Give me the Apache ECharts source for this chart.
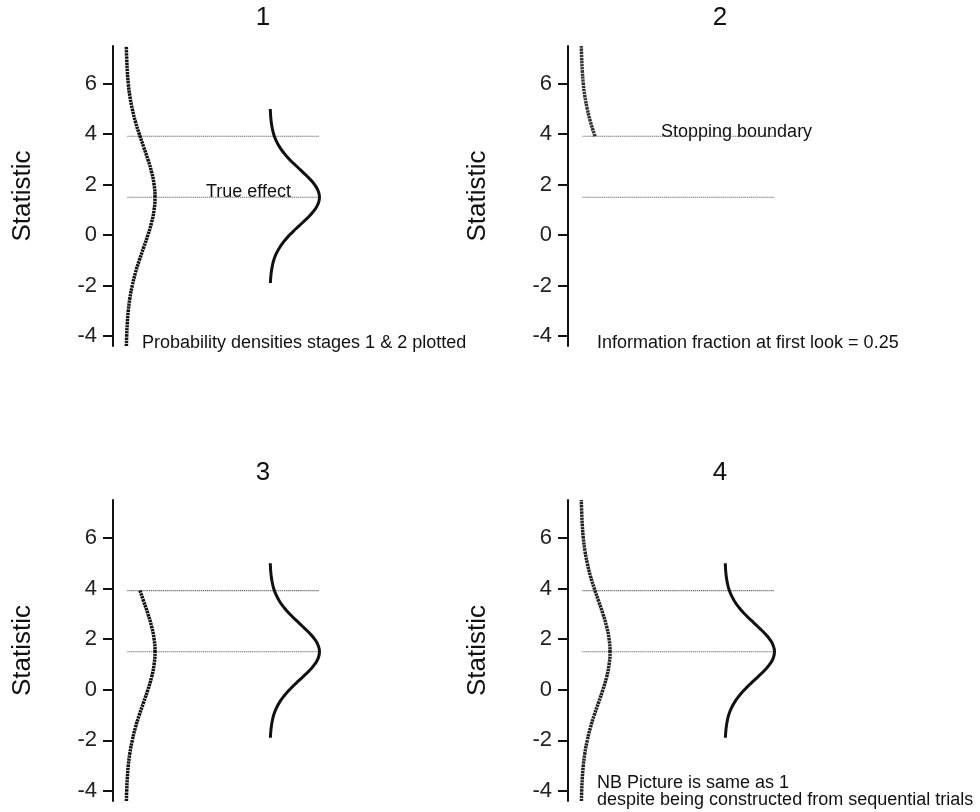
<!DOCTYPE html>
<html>
<head>
<meta charset="utf-8">
<script src="https://cdn.jsdelivr.net/npm/echarts@6/dist/echarts.min.js"></script>
<style>
html,body{margin:0;padding:0;background:#fff;}
#chart{width:980px;height:812px;}
</style>
</head>
<body>
<div id="chart"></div>
<script>
// ---- data ----
const panelTitles = ['1', '2', '3', '4'];
const tickValues = [-4, -2, 0, 2, 4, 6];
const axisName = 'Statistic';
const stoppingBoundary = 3.92;
const trueEffect = 1.5;
const refLineX = [1.45, 20.65];

// stage-1 density (wide, left curve): statistic value vs horizontal position
const statY = [-4.4, -4, -3.5, -3, -2.5, -2, -1.5, -1, -0.5, 0, 0.5, 1, 1.5, 2, 2.5, 3, 3.5, 3.92, 4, 4.5, 5, 5.5, 6, 6.5, 7, 7.5];
const stage1Density = [1.34, 1.37, 1.43, 1.53, 1.69, 1.93, 2.24, 2.63, 3.06, 3.49, 3.86, 4.11, 4.20, 4.11, 3.86, 3.49, 3.06, 2.70, 2.63, 2.24, 1.93, 1.69, 1.53, 1.43, 1.37, 1.33];

// stage-2 density (narrow, right curve)
const stage2Y = [-1.9, -1.75, -1.5, -1.25, -1, -0.75, -0.5, -0.25, 0, 0.25, 0.5, 0.75, 1, 1.25, 1.5, 1.75, 2, 2.25, 2.5, 2.75, 3, 3.25, 3.5, 3.75, 4, 4.25, 4.5, 4.75, 5];
const stage2Density = [15.74, 15.76, 15.82, 15.92, 16.07, 16.31, 16.65, 17.10, 17.65, 18.30, 18.97, 19.62, 20.16, 20.52, 20.65, 20.52, 20.16, 19.62, 18.97, 18.30, 17.65, 17.10, 16.65, 16.31, 16.07, 15.92, 15.82, 15.76, 15.73];

const annotations = {
  trueEffect: 'True effect',
  stopping: 'Stopping boundary',
  p1: 'Probability densities stages 1 & 2 plotted',
  p2: 'Information fraction at first look = 0.25',
  p4a: 'NB Picture is same as 1',
  p4b: 'despite being constructed from sequential trials'
};

// ---- build ----
const FONT = "'Liberation Sans', Arial, Helvetica, sans-serif";
const pairs = (xs, ys) => xs.map((x, i) => [x, ys[i]]);
const fullLeft = pairs(stage1Density, statY);
const upperLeft = fullLeft.filter(p => p[1] >= stoppingBoundary);
const lowerLeft = fullLeft.filter(p => p[1] <= stoppingBoundary);
const rightCurve = pairs(stage2Density, stage2Y);

const grids = [
  {left: 113, top: 46, width: 300, height: 300},
  {left: 568, top: 46, width: 300, height: 300},
  {left: 113, top: 500, width: 300, height: 301},
  {left: 568, top: 500, width: 300, height: 301}
];

const xAxes = grids.map((g, i) => ({
  gridIndex: i, type: 'value', min: 0, max: 30, show: false
}));
const yAxes = grids.map((g, i) => ({
  gridIndex: i, type: 'value', min: -4.4, max: 7.5,
  name: axisName, nameLocation: 'middle', nameGap: 77,
  nameTextStyle: {fontFamily: FONT, fontSize: 26, color: '#111'},
  splitLine: {show: false},
  axisLine: {show: true, lineStyle: {color: '#111', width: 2}},
  axisTick: {show: true, inside: false, length: 10, lineStyle: {color: '#111', width: 2}, customValues: tickValues},
  axisLabel: {show: true, margin: 16, fontFamily: FONT, fontSize: 22, color: '#222', customValues: tickValues}
}));

const hatch = (color) => ({color: color, width: 3.5, type: [2.4, 0.7]});
const solid = {color: '#111', width: 3};
const dotted = {color: '#444', width: 1.2, type: [1, 1]};

function lineSeries(i, data, style) {
  return {
    type: 'line', xAxisIndex: i, yAxisIndex: i, data: data,
    showSymbol: false, symbol: 'none', smooth: true, silent: true,
    lineStyle: style, animation: false
  };
}
function refLines(i) {
  return [
    lineSeries(i, [[refLineX[0], stoppingBoundary], [refLineX[1], stoppingBoundary]], dotted),
    lineSeries(i, [[refLineX[0], trueEffect], [refLineX[1], trueEffect]], dotted)
  ];
}

const series = [
  ...refLines(0), lineSeries(0, fullLeft, hatch('#111')), lineSeries(0, rightCurve, solid),
  ...refLines(1), lineSeries(1, upperLeft, hatch('#333')),
  ...refLines(2), lineSeries(2, lowerLeft, hatch('#111')), lineSeries(2, rightCurve, solid),
  ...refLines(3), lineSeries(3, fullLeft, hatch('#222')), lineSeries(3, rightCurve, solid)
];

function txt(text, x, y, size, align) {
  return {
    type: 'text', x: x, y: y, silent: true,
    style: {text: text, fontSize: size, fontFamily: FONT, fill: '#111',
            align: align, textAlign: align, verticalAlign: 'middle', textVerticalAlign: 'middle'}
  };
}
const titlePos = [[263, 18], [720, 18], [263, 473], [720, 473]];
const graphics = panelTitles.map((t, i) => txt(t, titlePos[i][0], titlePos[i][1], 26, 'center'));
graphics.push(txt(annotations.trueEffect, 206, 192, 18, 'left'));
graphics.push(txt(annotations.stopping, 661, 132, 18, 'left'));
graphics.push(txt(annotations.p1, 142, 343, 18, 'left'));
graphics.push(txt(annotations.p2, 597, 343, 18, 'left'));
graphics.push(txt(annotations.p4a, 597, 783, 18, 'left'));
graphics.push(txt(annotations.p4b, 597, 800, 18, 'left'));

const chart = echarts.init(document.getElementById('chart'), null, {renderer: 'canvas'});
chart.setOption({
  backgroundColor: '#fff',
  animation: false,
  grid: grids,
  xAxis: xAxes,
  yAxis: yAxes,
  series: series,
  graphic: {elements: graphics}
});
</script>
</body>
</html>
